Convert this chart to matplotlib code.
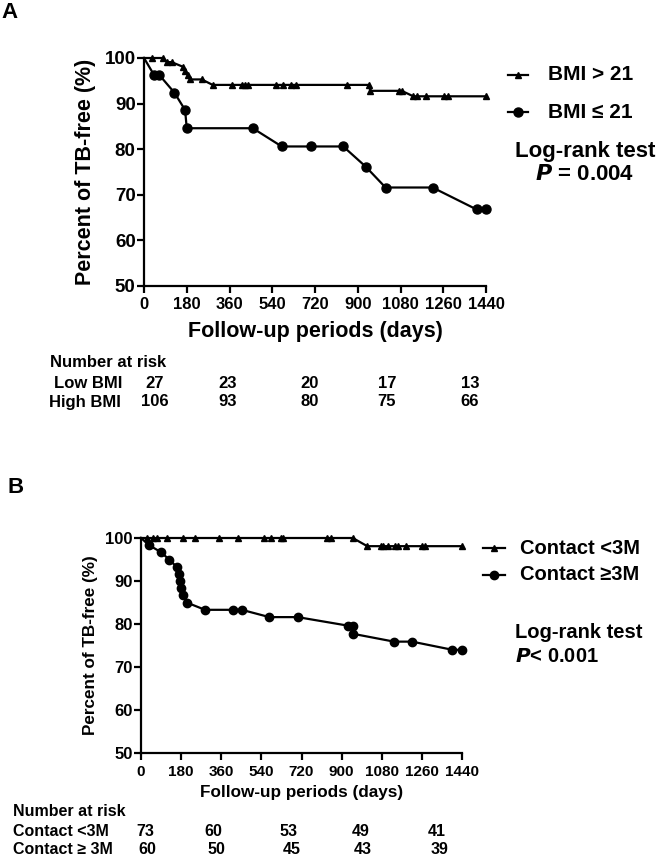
import matplotlib
matplotlib.use("Agg")
import matplotlib.pyplot as plt
from matplotlib.lines import Line2D

plt.rcParams["font.family"] = ["Liberation Sans", "DejaVu Sans"]
plt.rcParams["font.weight"] = "bold"

# ---- Panel A : BMI ----
bmi_high_days = [0, 32, 80, 97, 116, 163, 173, 184, 194, 243, 289, 372, 411, 425, 439,
                 554, 587, 618, 639, 856, 949, 952, 1075, 1085, 1134, 1151, 1187,
                 1263, 1281, 1440]
bmi_high_pct = [100, 100, 100, 99.1, 99.1, 98.1, 97.2, 96.2, 95.3, 95.3, 94.1, 94.1,
                94.1, 94.1, 94.1, 94.1, 94.1, 94.1, 94.1, 94.1, 94.1, 92.8, 92.8,
                92.8, 91.6, 91.6, 91.6, 91.6, 91.6, 91.6]
bmi_low_days = [0, 42, 64, 128, 173, 180, 458, 580, 703, 839, 933, 1017, 1215, 1400, 1440]
bmi_low_pct = [100, 96.3, 96.3, 92.4, 88.6, 84.6, 84.6, 80.6, 80.6, 80.6, 76.2, 71.6,
               71.6, 66.8, 66.8]

risk_a_low = ["27", "23", "20", "17", "13"]
risk_a_high = ["106", "93", "80", "75", "66"]

# ---- Panel B : contact ----
contact_lt_days = [0, 25, 55, 73, 115, 190, 242, 351, 434, 553, 582, 627, 639, 836, 851,
                   950, 1015, 1075, 1084, 1110, 1140, 1154, 1189, 1259, 1274, 1439]
contact_lt_pct = [100] * 16 + [98.1] * 10
contact_ge_days = [0, 37, 90, 126, 160, 169, 175, 179, 187, 205, 287, 411, 452, 576,
                   703, 930, 950, 953, 1135, 1216, 1397, 1439]
contact_ge_pct = [100, 98.3, 96.7, 95.0, 93.3, 91.7, 90.0, 88.3, 86.7, 85.0, 83.3, 83.3,
                  83.3, 81.6, 81.6, 79.6, 79.6, 77.7, 75.9, 75.9, 74.0, 74.0]

risk_b_lt = ["73", "60", "53", "49", "41"]
risk_b_ge = ["60", "50", "45", "43", "39"]

xticks = [0, 180, 360, 540, 720, 900, 1080, 1260, 1440]
yticks = [50, 60, 70, 80, 90, 100]

W, H = 658, 856
fig = plt.figure(figsize=(W / 100, H / 100), dpi=100)


def fx(x):
    return x / W


def fy(y):
    return 1 - y / H


def make_axes(l, r, t, b):
    return fig.add_axes([fx(l), fy(b), fx(r - l), (b - t) / H])


def style(ax, xsize, ysize, xpad, ypad, tlen):
    ax.set_xlim(0, 1440)
    ax.set_ylim(50, 100)
    ax.set_xticks(xticks)
    ax.set_yticks(yticks)
    for s in ["top", "right"]:
        ax.spines[s].set_visible(False)
    for s in ["left", "bottom"]:
        ax.spines[s].set_linewidth(1.6)
    ax.tick_params(axis="x", labelsize=xsize, pad=xpad, length=tlen, width=1.6)
    ax.tick_params(axis="y", labelsize=ysize, pad=ypad, length=tlen, width=1.6)
    for lab in ax.get_xticklabels() + ax.get_yticklabels():
        lab.set_fontweight("bold")


def km(ax, days, pct, marker, ms):
    # points joined by straight segments, no marker on the starting point
    ax.plot(days, pct, color="black", lw=1.6, marker=marker, ms=ms,
            markevery=list(range(1, len(days))), clip_on=False, zorder=3)


# ---------------- Panel A ----------------
axA = make_axes(144, 486, 58, 286)
km(axA, bmi_high_days, bmi_high_pct, "^", 5)
km(axA, bmi_low_days, bmi_low_pct, "o", 6.5)
style(axA, 12, 13.5, 3, 1, 5)
axA.set_xlabel("Follow-up periods (days)", fontsize=15.5, fontweight="bold")
axA.xaxis.set_label_coords(0.5, (286 - 332) / 228)
axA.xaxis.label.set_va("center")
axA.set_ylabel("Percent of TB-free (%)", fontsize=15.5, fontweight="bold")
axA.yaxis.set_label_coords((86 - 144) / 342, 0.5)
axA.yaxis.label.set_va("center")

fig.text(fx(10), fy(13), "A", fontsize=16, fontweight="bold", ha="center", va="center")

# legend A
for y, mk, ms, lab in [(75, "^", 5, "BMI > 21"), (112, "o", 6.5, "BMI \u2264 21")]:
    fig.add_artist(Line2D([fx(508), fx(528)], [fy(y), fy(y)], color="black", lw=1.6,
                          transform=fig.transFigure))
    fig.add_artist(Line2D([fx(518)], [fy(y)], color="black", marker=mk, ms=ms,
                          transform=fig.transFigure))
    fig.text(fx(548), fy(y), lab, fontsize=15, fontweight="bold", va="center")
fig.text(fx(585), fy(151), "Log-rank test", fontsize=16, fontweight="bold",
         ha="center", va="center")
fig.text(fx(585), fy(174), r"$\bfit{P}$ = 0.004", fontsize=16, fontweight="bold",
         ha="center", va="center")

# risk table A
fig.text(fx(50), fy(362), "Number at risk", fontsize=12, fontweight="bold", va="center")
fig.text(fx(54), fy(383), "Low BMI", fontsize=12, fontweight="bold", va="center")
fig.text(fx(49), fy(402), "High BMI", fontsize=12, fontweight="bold", va="center")
for xc, v1, v2 in zip([155, 228, 310, 387, 470], risk_a_low, risk_a_high):
    fig.text(fx(xc), fy(383), v1, fontsize=12, fontweight="bold", ha="center", va="center")
    fig.text(fx(xc), fy(402), v2, fontsize=12, fontweight="bold", ha="center", va="center")

# ---------------- Panel B ----------------
axB = make_axes(141, 462, 538, 753)
km(axB, contact_lt_days, contact_lt_pct, "^", 4.5)
km(axB, contact_ge_days, contact_ge_pct, "o", 6)
style(axB, 11, 12, 4, 1, 5)
axB.set_xlabel("Follow-up periods (days)", fontsize=12.3, fontweight="bold")
axB.xaxis.set_label_coords(0.5, (753 - 793) / 215)
axB.xaxis.label.set_va("center")
axB.set_ylabel("Percent of TB-free (%)", fontsize=12.3, fontweight="bold")
axB.yaxis.set_label_coords((90 - 141) / 321, 0.5)
axB.yaxis.label.set_va("center")

fig.text(fx(16), fy(488), "B", fontsize=16, fontweight="bold", ha="center", va="center")

for y, mk, ms, lab in [(548, "^", 4.5, "Contact <3M"), (575, "o", 6, "Contact \u22653M")]:
    fig.add_artist(Line2D([fx(483), fx(505)], [fy(y), fy(y)], color="black", lw=1.6,
                          transform=fig.transFigure))
    fig.add_artist(Line2D([fx(494)], [fy(y)], color="black", marker=mk, ms=ms,
                          transform=fig.transFigure))
    fig.text(fx(520), fy(y), lab, fontsize=14.5, fontweight="bold", va="center")
fig.text(fx(515), fy(633), "Log-rank test", fontsize=14.5, fontweight="bold", va="center")
fig.text(fx(515), fy(657), r"$\bfit{P}$< 0.001", fontsize=14.5, fontweight="bold",
         va="center")

# risk table B
fig.text(fx(13), fy(811), "Number at risk", fontsize=11.5, fontweight="bold", va="center")
fig.text(fx(13), fy(831), "Contact <3M", fontsize=11.5, fontweight="bold", va="center")
fig.text(fx(13), fy(850), "Contact \u2265 3M", fontsize=11.5, fontweight="bold", va="center")
for x1, x2, v1, v2 in zip([145, 213, 288, 361, 437], [147, 216, 292, 363, 440],
                          risk_b_lt, risk_b_ge):
    fig.text(fx(x1), fy(831), v1, fontsize=11.5, fontweight="bold", ha="center", va="center")
    fig.text(fx(x2), fy(850), v2, fontsize=11.5, fontweight="bold", ha="center", va="center")

fig.savefig("out.png", dpi=100)
